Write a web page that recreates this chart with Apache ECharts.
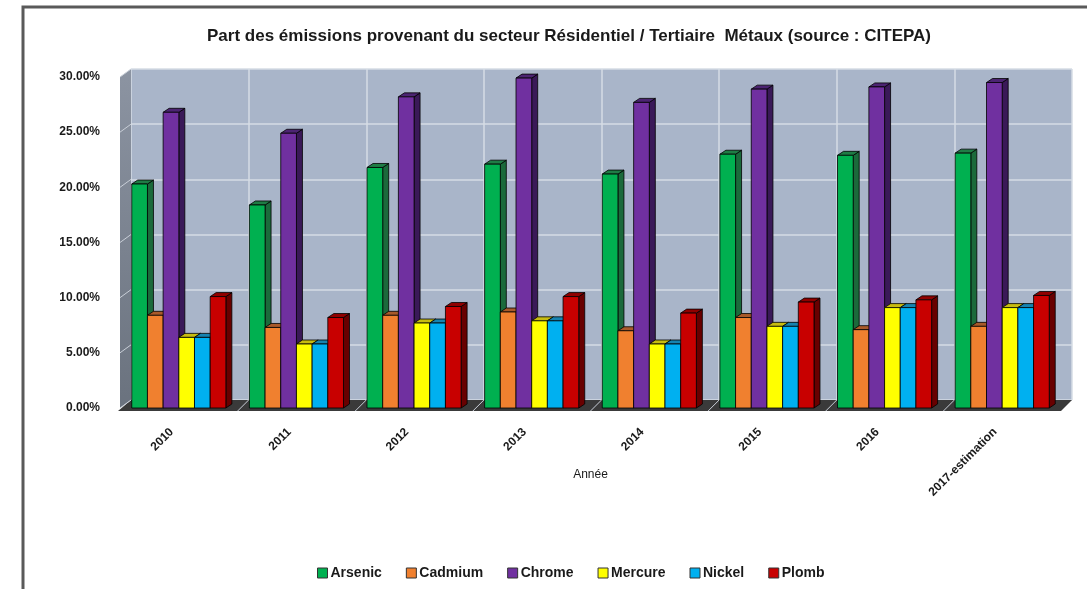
<!DOCTYPE html>
<html>
<head>
<meta charset="utf-8">
<title>Part des émissions - Résidentiel / Tertiaire</title>
<script src="https://cdn.jsdelivr.net/npm/echarts@6/dist/echarts.min.js"></script>
<style>
  html, body { margin: 0; padding: 0; background: #fff; }
  #main { width: 1087px; height: 589px; }
</style>
</head>
<body>
<div id="main"></div>
<script>
  // données (en %)
  var years = ['2010', '2011', '2012', '2013', '2014', '2015', '2016', '2017-estimation'];
  var arsenic = [20.3, 18.4, 21.8, 22.1, 21.2, 23.0, 22.9, 23.1];
  var cadmium = [8.4, 7.3, 8.4, 8.7, 7.0, 8.2, 7.1, 7.4];
  var chrome  = [26.8, 24.9, 28.2, 29.9, 27.7, 28.9, 29.1, 29.5];
  var mercure = [6.4, 5.8, 7.7, 7.9, 5.8, 7.4, 9.1, 9.1];
  var nickel  = [6.4, 5.8, 7.7, 7.9, 5.8, 7.4, 9.1, 9.1];
  var plomb   = [10.1, 8.2, 9.2, 10.1, 8.6, 9.6, 9.8, 10.2];
  var yTicks  = [0, 5, 10, 15, 20, 25, 30];

  var metals = ['Arsenic', 'Cadmium', 'Chrome', 'Mercure', 'Nickel', 'Plomb'];
  var values = [arsenic, cadmium, chrome, mercure, nickel, plomb];
  // face avant, côté, dessus
  var colors = [
    ['#00B050', '#1B6A3B', '#1F7C45'],
    ['#F0802F', '#8A4A1E', '#A85A2A'],
    ['#7030A0', '#3A1958', '#4C2472'],
    ['#FFFF00', '#8F8A00', '#C8BC10'],
    ['#00B0F0', '#06597A', '#1683B0'],
    ['#C80000', '#680000', '#900000']
  ];

  // zone de tracé (plan avant) et profondeur 3D
  var GX = 120, GY = 77, GW = 941, GH = 331;
  var WDX = 11, WDY = 8;   // décalage du mur du fond
  var BDX = 6, BDY = 4;    // profondeur des barres
  var font = 'Liberation Sans, Arial, sans-serif';

  function makeRender(idx) {
    var c = colors[idx];
    return function (params, api) {
      var cat = api.value(0);
      var base = api.coord([cat, 0]);
      var top = api.coord([cat, api.value(1)]);
      var band = api.size([1, 0])[0];
      var bw = band * 0.8 / 6;
      var x0 = base[0] - band * 0.4 + idx * bw;
      var x1 = x0 + bw;
      var yt = top[1], yb = base[1];
      var line = { stroke: '#000', lineWidth: 0.8 };
      return {
        type: 'group',
        children: [
          {
            type: 'polygon',
            shape: { points: [[x1, yb], [x1 + BDX, yb - BDY], [x1 + BDX, yt - BDY], [x1, yt]] },
            style: echarts.util.extend({ fill: c[1] }, line)
          },
          {
            type: 'polygon',
            shape: { points: [[x0, yt], [x0 + BDX, yt - BDY], [x1 + BDX, yt - BDY], [x1, yt]] },
            style: echarts.util.extend({ fill: c[2] }, line)
          },
          {
            type: 'rect',
            shape: { x: x0, y: yt, width: bw, height: yb - yt },
            style: echarts.util.extend({ fill: c[0] }, line)
          }
        ]
      };
    };
  }

  var series = metals.map(function (name, i) {
    return {
      name: name,
      type: 'custom',
      xAxisIndex: 1,
      yAxisIndex: 1,
      renderItem: makeRender(i),
      itemStyle: { color: colors[i][0] },
      encode: { x: 0, y: 1 },
      data: values[i].map(function (v, k) { return [k, v]; }),
      z: 5
    };
  });

  // décor : mur gauche, sol, cadre
  var band = GW / years.length;
  var decor = [
    {
      type: 'polyline',
      shape: { points: [[23, 589], [23, 7], [1087, 7]] },
      style: { stroke: '#5a5a5a', lineWidth: 3, fill: null },
      z: 1
    },
    {
      type: 'polygon',
      shape: { points: [[GX, GY + GH], [GX + WDX, GY + GH - WDY], [GX + WDX, GY - WDY], [GX, GY]] },
      style: {
        fill: new echarts.graphic.LinearGradient(0, 0, 0, 1, [
          { offset: 0, color: '#8C94A2' },
          { offset: 1, color: '#6A727E' }
        ])
      },
      z: 2
    },
    {
      type: 'polygon',
      shape: { points: [[GX - 2, GY + GH + 3], [GX + GW, GY + GH + 3], [GX + GW + WDX, GY + GH - WDY], [GX + WDX, GY + GH - WDY]] },
      style: { fill: '#3a3a3a' },
      z: 2
    }
  ];
  yTicks.forEach(function (t) {
    var y = GY + GH - t / 30 * GH;
    decor.push({
      type: 'line',
      shape: { x1: GX, y1: y, x2: GX + WDX, y2: y - WDY },
      style: { stroke: '#C9CFD8', lineWidth: 1 },
      z: 3
    });
  });
  for (var k = 1; k < years.length; k++) {
    decor.push({
      type: 'line',
      shape: { x1: GX + k * band, y1: GY + GH + 3, x2: GX + k * band + WDX, y2: GY + GH - WDY },
      style: { stroke: '#C9CFD8', lineWidth: 1 },
      z: 3
    });
  }

  var chart = echarts.init(document.getElementById('main'));
  var option = {
    backgroundColor: '#fff',
    animation: false,
    title: {
      text: 'Part des émissions provenant du secteur Résidentiel / Tertiaire  Métaux (source : CITEPA)',
      left: 564,
      textAlign: 'center',
      top: 23,
      textStyle: { fontFamily: font, fontSize: 17, fontWeight: 'bold', color: '#1a1a1a' }
    },
    legend: {
      data: metals,
      left: 312,
      top: 561,
      itemWidth: 10,
      itemHeight: 10,
      itemGap: 24,
      icon: 'rect',
      itemStyle: { borderColor: '#333', borderWidth: 1 },
      textStyle: { fontFamily: font, fontSize: 14, fontWeight: 'bold', color: '#1a1a1a', padding: [0, 0, 0, -2] }
    },
    grid: [
      // mur du fond
      { left: GX + WDX, top: GY - WDY, width: GW, height: GH, show: true, backgroundColor: '#A9B5C9', borderWidth: 0 },
      // plan avant
      { left: GX, top: GY, width: GW, height: GH }
    ],
    xAxis: [
      {
        gridIndex: 0, type: 'category', data: years,
        axisLine: { show: false }, axisTick: { show: false }, axisLabel: { show: false },
        splitLine: { show: true, lineStyle: { color: '#D6DCE5', width: 1.5 } }
      },
      {
        gridIndex: 1, type: 'category', data: years,
        axisLine: { show: false }, axisTick: { show: false },
        axisLabel: {
          rotate: 45, margin: 15, interval: 0, padding: [0, 10, 0, 0],
          fontFamily: font, fontSize: 12, fontWeight: 'bold', color: '#1a1a1a'
        },
        name: 'Année', nameLocation: 'middle', nameGap: 61, nameMoveOverlap: false,
        nameTextStyle: { fontFamily: font, fontSize: 12, color: '#1a1a1a' }
      }
    ],
    yAxis: [
      {
        gridIndex: 0, type: 'value', min: yTicks[0], max: yTicks[yTicks.length - 1], interval: 5,
        axisLine: { show: false }, axisTick: { show: false }, axisLabel: { show: false },
        splitLine: { show: true, lineStyle: { color: '#D6DCE5', width: 1.5 } }
      },
      {
        gridIndex: 1, type: 'value', min: yTicks[0], max: yTicks[yTicks.length - 1], interval: 5,
        axisLine: { show: false }, axisTick: { show: false }, splitLine: { show: false },
        axisLabel: {
          margin: 20,
          fontFamily: font, fontSize: 12, fontWeight: 'bold', color: '#1a1a1a',
          formatter: function (v) { return v.toFixed(2) + '%'; }
        }
      }
    ],
    graphic: decor,
    series: series
  };
  chart.setOption(option);
</script>
</body>
</html>
